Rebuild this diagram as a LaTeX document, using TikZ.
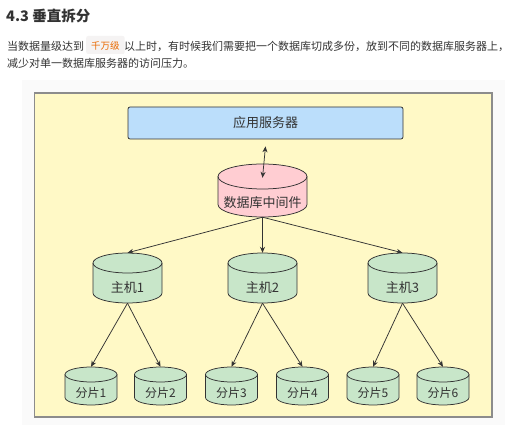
\documentclass[tikz,border=0pt]{standalone}
\usepackage{fontspec}
\setmainfont{Noto Sans CJK SC}
\usetikzlibrary{arrows.meta}
\definecolor{panelbg}{HTML}{FAFAFA}
\definecolor{framefill}{HTML}{FFF9C6}
\definecolor{framedraw}{HTML}{8C8C8C}
\definecolor{appfill}{HTML}{BBDEFB}
\definecolor{pinkfill}{HTML}{FFCDD2}
\definecolor{greenfill}{HTML}{C8E6C9}
\definecolor{linec}{HTML}{333333}
\definecolor{txtc}{HTML}{333333}
\definecolor{codebg}{HTML}{F5F3F3}
\definecolor{codec}{HTML}{E96900}
\tikzset{
  cylline/.style={draw=linec, line width=0.75pt},
  conn/.style={draw=linec, line width=0.75pt, -{Stealth[length=6pt,width=5pt]}},
  dconn/.style={draw=linec, line width=0.75pt, {Stealth[length=6pt,width=5pt]}-{Stealth[length=6pt,width=5pt]}},
  para/.style={anchor=base west, inner sep=0pt, text=txtc, font=\fontsize{11}{11}\selectfont},
}
% name, cx, top, halfwidth, height, ry, fill, fontsize, text
\newcommand\dbnode[9]{%
  \pgfmathsetmacro\cyA{#3+#6}%
  \pgfmathsetmacro\cyB{#3+#5-#6}%
  \pgfmathsetmacro\cxL{#2-#4}%
  \pgfmathsetmacro\cxR{#2+#4}%
  \filldraw[cylline, fill=#7] (\cxL,\cyA) -- (\cxL,\cyB)
     arc[start angle=180,end angle=360,x radius=#4pt,y radius=#6pt]
     -- (\cxR,\cyA)
     arc[start angle=0,end angle=180,x radius=#4pt,y radius=#6pt] -- cycle;
  \draw[cylline] (\cxL,\cyA) arc[start angle=180,end angle=360,x radius=#4pt,y radius=#6pt];
  \pgfmathsetmacro\cyT{#3+#6+#5/2+0.37*#8}%
  \pgfmathsetmacro\cth{\cyT-#3}%
  \pgfmathsetmacro\ctd{#3+#5-\cyT}%
  \pgfmathsetmacro\cw{2*#4}%
  \node[inner sep=0pt, minimum width=\cw pt, text height=\cth pt, text depth=\ctd pt,
        text=txtc, font=\fontsize{#8}{#8}\selectfont, anchor=base] (#1) at (#2,\cyT) {#9};
}
\begin{document}
\begin{tikzpicture}[x=1pt,y=-1pt]
\useasboundingbox (0,0) rectangle (522,427);
\fill[white] (0,0) rectangle (522,427);
\fill[panelbg] (22,80) rectangle (505,425);
% heading and paragraph
\node[anchor=base west, inner sep=0pt, text=txtc, font=\fontsize{14.5}{14.5}\selectfont\bfseries] (head) at (6,21.7) {4.3 垂直拆分};
\node[para] (p1a) at (7,50.3) {当数据量级达到};
\node[anchor=base west, inner xsep=5pt, inner ysep=0pt, text height=13.5pt, text depth=4.5pt,
      fill=codebg, rounded corners=2pt, text=codec, font=\fontsize{9.5}{9.5}\selectfont] (code) at (86,49.5) {千万级};
\node[para] (p1b) at (124,50.3) {以上时，有时候我们需要把一个数据库切成多份，放到不同的数据库服务器上，};
\node[para] (p2) at (7,67.3) {减少对单一数据库服务器的访问压力。};
% frame
\filldraw[fill=framefill, draw=framedraw, line width=1.2pt] (34.5,93) rectangle (492,417);
% app server
\node[draw=linec, line width=0.75pt, fill=appfill, rounded corners=2pt, minimum width=275pt, minimum height=32pt,
      inner sep=0pt, text=txtc, font=\fontsize{13}{13}\selectfont] (app) at (265.5,123) {应用服务器};
% middleware
\dbnode{mid}{262.5}{164}{44.5}{53}{12.5}{pinkfill}{13}{数据库中间件}
% hosts
\dbnode{h1}{127.5}{253}{34.5}{50}{10}{greenfill}{13}{主机1}
\dbnode{h2}{262.5}{253}{34.5}{50}{10}{greenfill}{13}{主机2}
\dbnode{h3}{402.5}{253}{34.5}{50}{10}{greenfill}{13}{主机3}
% shards
\dbnode{s1}{91}{367}{26}{38}{7.5}{greenfill}{12}{分片1}
\dbnode{s2}{160.5}{367}{26}{38}{7.5}{greenfill}{12}{分片2}
\dbnode{s3}{231.5}{367}{26}{38}{7.5}{greenfill}{12}{分片3}
\dbnode{s4}{302.5}{367}{26}{38}{7.5}{greenfill}{12}{分片4}
\dbnode{s5}{373}{367}{26}{38}{7.5}{greenfill}{12}{分片5}
\dbnode{s6}{443}{367}{26}{38}{7.5}{greenfill}{12}{分片6}
% connectors
\draw[dconn] ([yshift=-7pt]app.south) -- ([yshift=-14pt]mid.north);
\draw[conn] (mid.south) -- (h1.north);
\draw[conn] (mid.south) -- (h2.north);
\draw[conn] (mid.south) -- (h3.north);
\draw[conn] (h1.south) -- (s1.north);
\draw[conn] (h1.south) -- (s2.north);
\draw[conn] (h2.south) -- (s3.north);
\draw[conn] (h2.south) -- (s4.north);
\draw[conn] (h3.south) -- (s5.north);
\draw[conn] (h3.south) -- (s6.north);
\end{tikzpicture}
\end{document}
